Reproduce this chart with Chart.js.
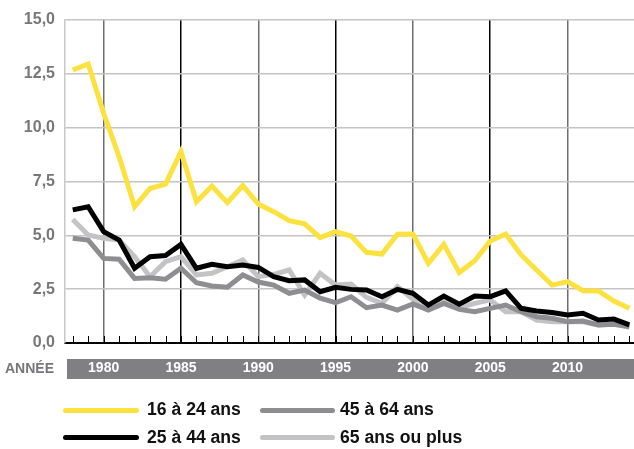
<!DOCTYPE html>
<html>
<head>
<meta charset="utf-8">
<script src="https://cdn.jsdelivr.net/npm/chart.js@4"></script>
<style>
html,body{margin:0;padding:0;background:#fff;overflow:hidden;}
#wrap{position:relative;width:634px;height:449px;}
canvas{position:absolute;left:0;top:0;}
.leg{position:absolute;font-family:"Liberation Sans",Arial,sans-serif;font-weight:bold;font-size:17.6px;color:#111;white-space:nowrap;line-height:20px;}
.sw{position:absolute;height:5px;border-radius:3px;}
</style>
</head>
<body>
<div id="wrap"><canvas id="c" width="634" height="449"></canvas></div>
<script>
const years = [1978,1979,1980,1981,1982,1983,1984,1985,1986,1987,1988,1989,1990,1991,1992,1993,1994,1995,1996,1997,1998,1999,2000,2001,2002,2003,2004,2005,2006,2007,2008,2009,2010,2011,2012,2013,2014];
const labelYears = [1980,1985,1990,1995,2000,2005,2010];
const yTicks = [0,2.5,5,7.5,10,12.5,15];
const seriesNames = ["16 à 24 ans","25 à 44 ans","45 à 64 ans","65 ans ou plus"];
const seriesColors = ["#fde13e","#000000","#8e8e90","#c3c3c5"];
const v16_24 = [12.68,12.96,10.67,8.65,6.33,7.18,7.38,8.89,6.56,7.29,6.52,7.31,6.45,6.10,5.68,5.53,4.89,5.17,4.97,4.21,4.13,5.05,5.06,3.70,4.58,3.27,3.82,4.74,5.06,4.09,3.39,2.69,2.85,2.43,2.42,1.95,1.61];
const v25_44 = [6.18,6.33,5.17,4.78,3.47,4.01,4.06,4.58,3.47,3.65,3.54,3.62,3.51,3.08,2.89,2.93,2.38,2.59,2.49,2.46,2.15,2.49,2.31,1.76,2.18,1.80,2.18,2.15,2.42,1.61,1.49,1.42,1.30,1.38,1.07,1.11,0.84];
const v45_64 = [4.86,4.78,3.93,3.89,3.00,3.03,2.96,3.47,2.80,2.65,2.59,3.16,2.83,2.69,2.31,2.46,2.08,1.87,2.15,1.64,1.76,1.53,1.81,1.53,1.84,1.56,1.45,1.61,1.76,1.45,1.22,1.15,0.99,1.02,0.84,0.87,0.76];
const v65 = [5.74,5.02,4.86,4.78,4.01,3.08,3.78,4.01,3.16,3.24,3.54,3.85,3.08,3.19,3.39,2.23,3.24,2.69,2.74,2.12,1.84,2.62,2.03,1.69,2.00,1.64,1.84,2.00,1.45,1.45,1.07,0.99,0.99,0.99,0.84,0.88,0.73];
const allValues = [v16_24,v25_44,v45_64,v65];

const FONT = '"Liberation Sans", Arial, sans-serif';

const decor = {
  id:'decor',
  beforeDraw(chart){
    const ctx = chart.ctx, a = chart.chartArea;
    ctx.save();
    ctx.fillStyle = '#808083';
    ctx.fillRect(a.left+2, 359, chart.width - a.left - 2, 20);
    ctx.fillStyle = '#77777a';
    ctx.font = 'bold 14px ' + FONT;
    ctx.textBaseline = 'middle';
    ctx.textAlign = 'left';
    ctx.fillText('ANNÉE', 5, 369.5);
    ctx.restore();
  },
  beforeDatasetsDraw(chart){
    const ctx = chart.ctx, a = chart.chartArea, x = chart.scales.x;
    ctx.save();
    ctx.strokeStyle = '#000';
    ctx.lineWidth = 1;
    years.forEach(y=>{
      const px = Math.round(x.getPixelForValue(y)) + 0.5;
      ctx.beginPath(); ctx.moveTo(px, a.bottom - 7); ctx.lineTo(px, a.bottom); ctx.stroke();
    });
    ctx.restore();
  }
};

new Chart(document.getElementById('c'), {
  type:'line',
  data:{
    datasets: allValues.map((vals,i)=>({
      label: seriesNames[i],
      data: years.map((y,j)=>({x:y, y:vals[j]})),
      borderColor: seriesColors[i],
      backgroundColor: seriesColors[i],
      borderWidth: 5,
      pointRadius: 0,
      tension: 0,
      fill: false
    }))
  },
  options:{
    responsive:false,
    animation:false,
    devicePixelRatio:1,
    layout:{padding:{top:20,right:0,left:0,bottom:0}},
    plugins:{legend:{display:false},tooltip:{enabled:false}},
    scales:{
      x:{
        type:'linear', min:1977.5, max:2014.3,
        afterBuildTicks(s){ s.ticks = labelYears.map(v=>({value:v})); },
        afterFit(s){ s.height = 106; },
        ticks:{color:'#ffffff', font:{family:FONT, weight:'bold', size:14}, padding:17, maxRotation:0, autoSkip:false, callback:v=>String(v)},
        grid:{drawTicks:false, lineWidth:1.5, color:(c)=> (c.index % 2 === 0 ? '#6e6e6e' : '#000000')},
        border:{display:true, color:'#000', width:2}
      },
      y:{
        min:0, max:15,
        afterBuildTicks(s){ s.ticks = yTicks.map(v=>({value:v})); },
        afterFit(s){ s.width = 65; },
        ticks:{color:'#77777a', font:{family:FONT, weight:'bold', size:16}, padding:10, callback:v=>v.toFixed(1).replace('.',',')},
        grid:{drawTicks:false, lineWidth:1.5, color:'#c4c4c4'},
        border:{display:true, color:'#c8c8c8', width:1.5}
      }
    }
  },
  plugins:[decor]
});

// HTML legend
const wrap = document.getElementById('wrap');
const legPos = [[63,410],[63,437.5],[260,410],[260,437.5]];
seriesNames.forEach((n,i)=>{
  const [lx,ly] = legPos[i];
  const sw = document.createElement('div');
  sw.className='sw'; sw.style.left=lx+'px'; sw.style.top=(ly-2.5)+'px'; sw.style.width=(i<2?76:75)+'px'; sw.style.background=seriesColors[i];
  wrap.appendChild(sw);
  const t = document.createElement('div');
  t.className='leg'; t.textContent=n; t.style.left=(lx+(i<2?84:80))+'px'; t.style.top=(ly-11)+'px';
  wrap.appendChild(t);
});
</script>
</body>
</html>
